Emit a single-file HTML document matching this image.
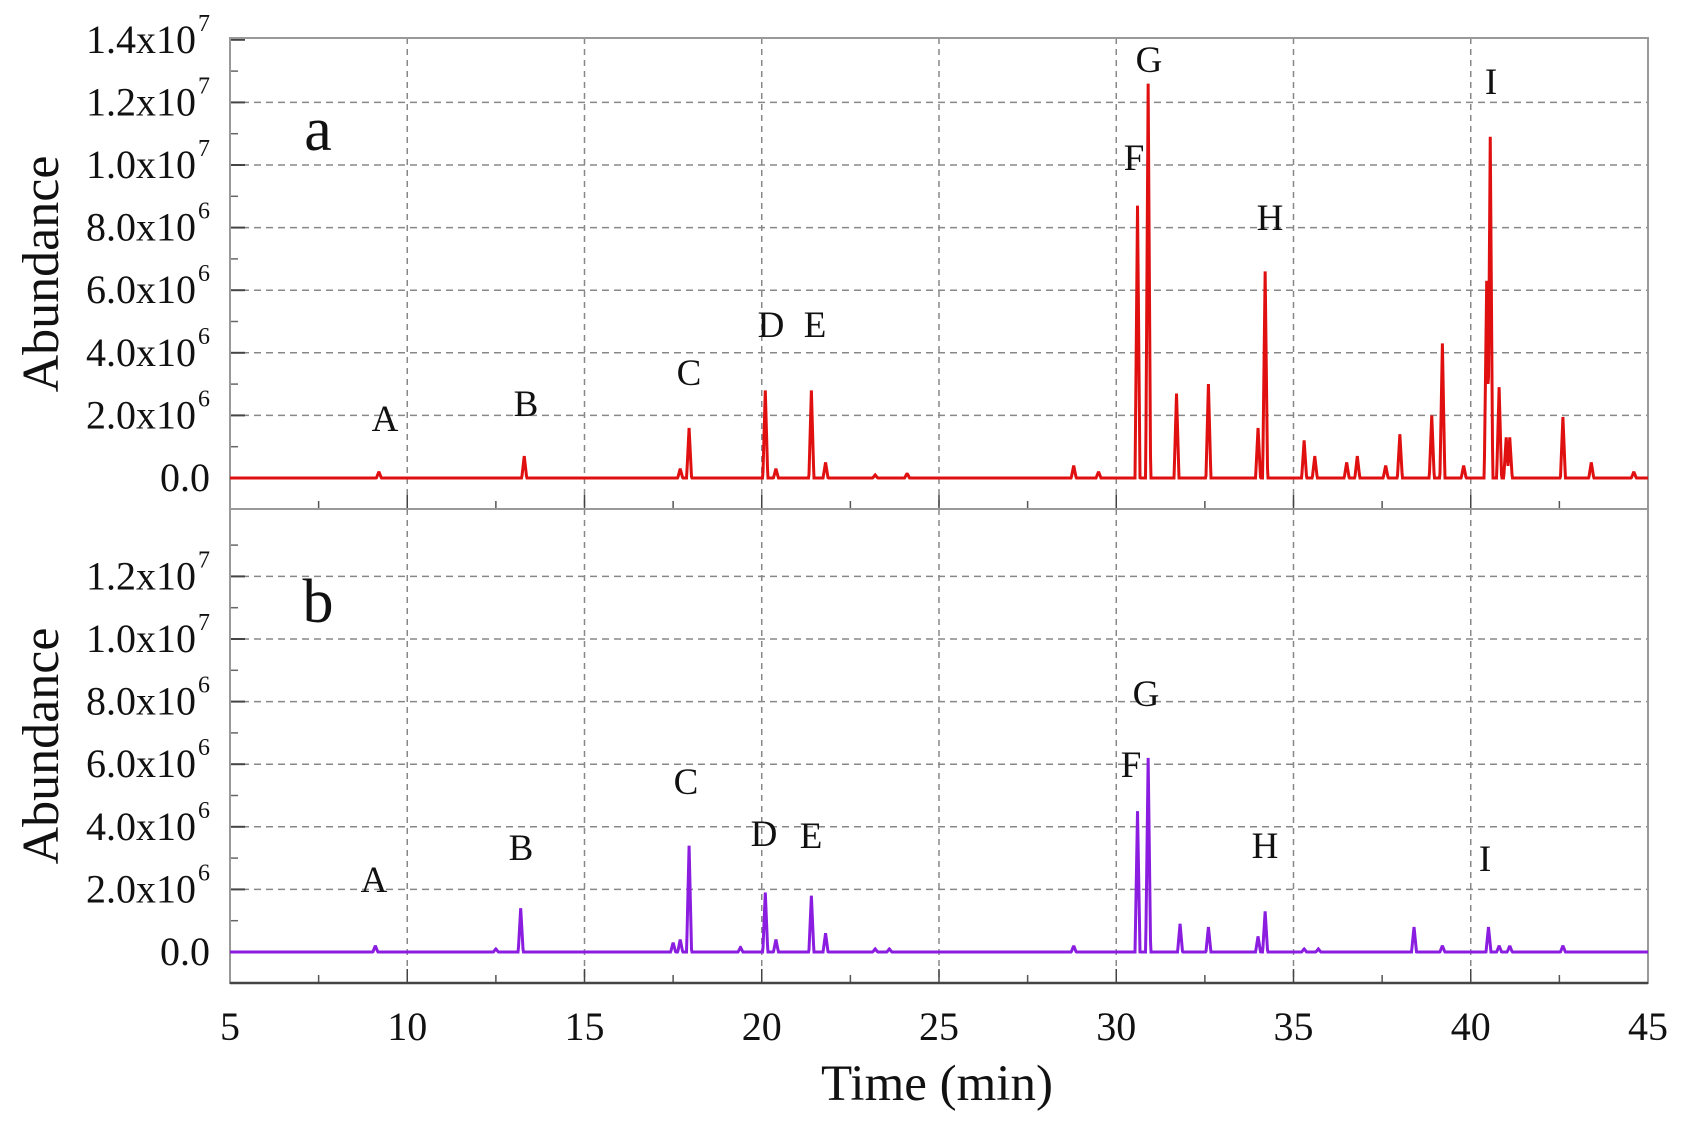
<!DOCTYPE html>
<html><head><meta charset="utf-8"><style>
html,body{margin:0;padding:0;background:#fff;}
svg{display:block;}
text{font-family:"Liberation Serif",serif;fill:#111;}
</style></head><body>
<svg id="s" width="1685" height="1125" viewBox="0 0 1685 1125" xmlns="http://www.w3.org/2000/svg">
<rect width="1685" height="1125" fill="#fff"/>
<g id="grid"></g>
<g id="axes"></g>
<g id="data"></g>
<g font-size="40" text-anchor="end" id="ylab"></g>
<text font-size="52" transform="translate(58,274) rotate(-90)" text-anchor="middle">Abundance</text>
<text font-size="52" transform="translate(58,746) rotate(-90)" text-anchor="middle">Abundance</text>
<text x="318" y="150" font-size="62" text-anchor="middle">a</text>
<text x="318" y="622" font-size="62" text-anchor="middle">b</text>
<g font-size="37" text-anchor="middle">
<text x="385" y="431">A</text><text x="526" y="416">B</text><text x="689" y="385">C</text>
<text x="771" y="337">D</text><text x="815" y="337">E</text><text x="1134" y="170">F</text>
<text x="1149" y="72">G</text><text x="1270" y="230">H</text><text x="1491" y="94">I</text>
<text x="374" y="892">A</text><text x="521" y="860">B</text><text x="686" y="794">C</text>
<text x="764" y="846">D</text><text x="811" y="848">E</text><text x="1131" y="777">F</text>
<text x="1146" y="706">G</text><text x="1265" y="858">H</text><text x="1485" y="871">I</text>
</g>
<g font-size="40" text-anchor="middle" id="xlab"></g>
<text x="937" y="1100" font-size="51" text-anchor="middle">Time (min)</text>
</svg>
<script>
var NS="http://www.w3.org/2000/svg";
function el(p,t,a,txt){var e=document.createElementNS(NS,t);for(var k in a)e.setAttribute(k,a[k]);if(txt!==undefined)e.textContent=txt;document.getElementById(p).appendChild(e);return e;}
var X0=230,X1=1648,PX=(X1-X0)/40,S=62.6/2;
function xp(t){return X0+(t-5)*PX;}
var panels=[{top:38,y0:478,bot:509,maxv:14,col:"#e01010"},{top:509,y0:952,bot:983,maxv:12,col:"#8a1de0"}];
var ylabs=[["1.4x10","7",14],["1.2x10","7",12],["1.0x10","7",10],["8.0x10","6",8],["6.0x10","6",6],["4.0x10","6",4],["2.0x10","6",2]];
panels.forEach(function(P,pi){
 for(var t=10;t<45;t+=5){el("grid","line",{x1:xp(t),x2:xp(t),y1:P.top,y2:P.bot,stroke:"#888","stroke-width":1.5,"stroke-dasharray":"6,5"});}
 for(var v=2;v<=P.maxv;v+=2){var y=P.y0-v*S;if(v<14)el("grid","line",{x1:X0,x2:X1,y1:y,y2:y,stroke:"#888","stroke-width":1.5,"stroke-dasharray":"7,5"});
  el("axes","line",{x1:X0,x2:X0+15,y1:y,y2:y,stroke:"#444","stroke-width":2});}
 for(var v=1;v<=13;v+=2){var y=P.y0-v*S;if(y>P.top)el("axes","line",{x1:X0,x2:X0+8,y1:y,y2:y,stroke:"#666","stroke-width":1.5});}
 el("axes","line",{x1:X0,x2:X0+15,y1:P.y0,y2:P.y0,stroke:"#444","stroke-width":2});
 for(var t=7.5;t<45;t+=5){el("axes","line",{x1:xp(t),x2:xp(t),y1:P.bot,y2:P.bot-8,stroke:"#555","stroke-width":1.5});}
 for(var t=10;t<45;t+=5){el("axes","line",{x1:xp(t),x2:xp(t),y1:P.bot,y2:P.bot-14,stroke:"#444","stroke-width":1.5});}
 el("axes","rect",{x:X0,y:P.top,width:X1-X0,height:P.bot-P.top,fill:"none",stroke:"#999","stroke-width":2});
 ylabs.forEach(function(l){if(l[2]>P.maxv)return;var y=P.y0-l[2]*S+13;el("ylab","text",{x:196,y:y},l[0]);el("ylab","text",{x:210,y:y-22,"font-size":24},l[1]);});
 el("ylab","text",{x:210,y:P.y0+13},"0.0");
});
el("axes","line",{x1:X0,x2:X1,y1:983,y2:983,stroke:"#444","stroke-width":2.5});
for(var t=5;t<=45;t+=5)el("xlab","text",{x:xp(t),y:1040},String(t));
var A=[[9.2,.2],[13.3,.7],[17.7,.3],[17.95,1.6],[20.1,2.8],[20.4,.3],[21.4,2.8],[21.8,.5],[23.2,.1],[24.1,.15],[28.8,.4],[29.5,.2],[30.6,8.7],[30.9,12.6],[31.7,2.7],[32.6,3.0],[34.0,1.6],[34.2,6.6],[35.3,1.2],[35.6,.7],[36.5,.5],[36.8,.7],[37.6,.4],[38.0,1.4],[38.9,2.0],[39.2,4.3],[39.8,.4],[40.45,6.3],[40.55,10.9],[40.8,2.9],[41.0,1.3],[41.1,1.3],[42.6,1.95],[43.4,.5],[44.6,.2]];
var B=[[9.1,.2],[12.5,.1],[13.2,1.4],[17.5,.3],[17.7,.4],[17.95,3.4],[19.4,.15],[20.1,1.9],[20.4,.4],[21.4,1.8],[21.8,.6],[23.2,.1],[23.6,.1],[28.8,.2],[30.6,4.5],[30.9,6.2],[31.8,.9],[32.6,.8],[34.0,.5],[34.2,1.3],[35.3,.1],[35.7,.1],[38.4,.8],[39.2,.2],[40.5,.8],[40.8,.2],[41.1,.2],[42.6,.2]];
function path(pk,P){
 var xs=[];for(var x=X0;x<=X1;x+=0.5)xs.push(x);
 pk.forEach(function(p){xs.push(xp(p[0]));});
 xs.sort(function(a,b){return a-b;});
 var pts=xs.map(function(x){var t=5+(x-X0)/PX,v=0;pk.forEach(function(p){var d=Math.abs(t-p[0]);var w=0.07;if(d<w)v=Math.max(v,p[1]*(1-d/w));});return x.toFixed(2)+","+(P.y0-v*S).toFixed(1);});
 return "M"+pts.join("L");
}
el("data","path",{d:path(A,panels[0]),fill:"none",stroke:panels[0].col,"stroke-width":3,"stroke-linejoin":"miter","stroke-miterlimit":2});
el("data","path",{d:path(B,panels[1]),fill:"none",stroke:panels[1].col,"stroke-width":3,"stroke-linejoin":"miter","stroke-miterlimit":2});
</script>
</body></html>
